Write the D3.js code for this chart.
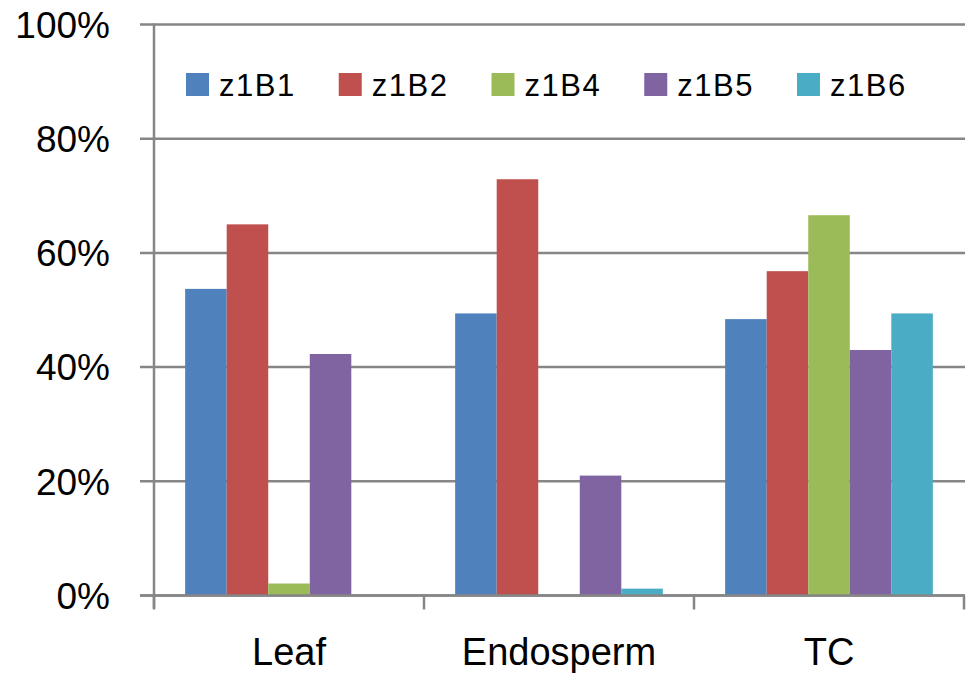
<!DOCTYPE html>
<html>
<head>
<meta charset="utf-8">
<script src="https://cdn.jsdelivr.net/npm/d3@7"></script>
<style>
  html, body { margin: 0; padding: 0; background: #fff; }
  svg { display: block; }
  text { font-family: "Liberation Sans", Arial, sans-serif; fill: #000; }
</style>
</head>
<body>
<svg id="chart" width="967" height="674"></svg>
<script>
const categories = ["Leaf", "Endosperm", "TC"];
const seriesNames = ["z1B1", "z1B2", "z1B4", "z1B5", "z1B6"];
const seriesColors = ["#4F81BD", "#C0504D", "#9BBB59", "#8064A2", "#4BACC6"];
// values per series, in category order (fractions)
const z1B1 = [0.537, 0.494, 0.484];
const z1B2 = [0.650, 0.729, 0.568];
const z1B4 = [0.021, 0.000, 0.666];
const z1B5 = [0.423, 0.210, 0.430];
const z1B6 = [0.000, 0.012, 0.494];
const yTicks = [0, 0.2, 0.4, 0.6, 0.8, 1.0];

const seriesValues = [z1B1, z1B2, z1B4, z1B5, z1B6];

const svg = d3.select("#chart");
const plotLeft = 154, plotRight = 964, plotTop = 24.5, plotBottom = 595.5;

const x0 = d3.scaleBand().domain(categories).range([plotLeft, plotRight]).padding(0);
const x1 = d3.scaleBand().domain(seriesNames).range([0, x0.bandwidth()])
  .paddingInner(0).paddingOuter(0.75);
const y = d3.scaleLinear().domain([0, 1]).range([plotBottom, plotTop]);

const gridColor = "#868686";

// gridlines with outward ticks
svg.append("g").selectAll("line").data(yTicks).join("line")
  .attr("x1", plotLeft - 14).attr("x2", plotRight + 1)
  .attr("y1", d => y(d)).attr("y2", d => y(d))
  .attr("stroke", gridColor).attr("stroke-width", 2.5);

// y labels
svg.append("g").selectAll("text").data(yTicks).join("text")
  .attr("x", 110).attr("y", d => y(d)).attr("dy", "0.36em")
  .attr("text-anchor", "end").attr("font-size", 37)
  .text(d => d3.format(".0%")(d));

// bars
const groups = svg.append("g").selectAll("g").data(categories).join("g")
  .attr("transform", c => `translate(${x0(c)},0)`);
groups.selectAll("rect")
  .data((c, ci) => seriesNames.map((s, si) => ({ s, si, v: seriesValues[si][ci] })).filter(d => d.v > 0))
  .join("rect")
  .attr("x", d => x1(d.s)).attr("width", x1.bandwidth())
  .attr("y", d => y(d.v)).attr("height", d => y(0) - y(d.v))
  .attr("fill", d => seriesColors[d.si]);

// axes lines
svg.append("line").attr("x1", plotLeft).attr("x2", plotLeft).attr("y1", plotTop - 1).attr("y2", plotBottom + 13)
  .attr("stroke", gridColor).attr("stroke-width", 2.5);
svg.append("line").attr("x1", plotLeft - 14).attr("x2", plotRight + 1).attr("y1", plotBottom).attr("y2", plotBottom)
  .attr("stroke", gridColor).attr("stroke-width", 2.5);

// category ticks
const catEdges = categories.map(c => x0(c)).concat([x0(categories[categories.length - 1]) + x0.bandwidth()]);
svg.append("g").selectAll("line").data(catEdges).join("line")
  .attr("x1", d => d).attr("x2", d => d)
  .attr("y1", plotBottom).attr("y2", plotBottom + 14)
  .attr("stroke", gridColor).attr("stroke-width", 2.5);

// category labels
svg.append("g").selectAll("text").data(categories).join("text")
  .attr("x", c => x0(c) + x0.bandwidth() / 2).attr("y", 665)
  .attr("text-anchor", "middle").attr("font-size", 38)
  .text(c => c);

// legend
const legendX = d3.scalePoint().domain(seriesNames).range([186, 797]);
const lg = svg.append("g").selectAll("g").data(seriesNames).join("g")
  .attr("transform", s => `translate(${legendX(s)},73)`);
lg.append("rect").attr("width", 23).attr("height", 23)
  .attr("fill", (s, i) => seriesColors[i]);
lg.append("text").attr("x", 33).attr("y", 23).attr("font-size", 31)
  .attr("letter-spacing", 1.5)
  .text(s => s);
</script>
</body>
</html>
